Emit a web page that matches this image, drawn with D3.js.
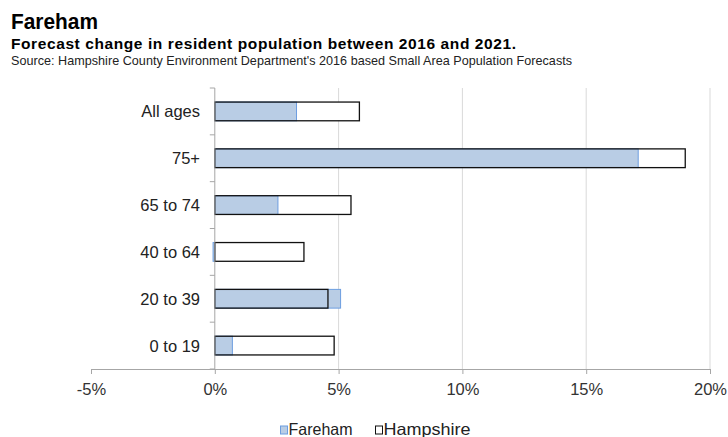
<!DOCTYPE html>
<html>
<head>
<meta charset="utf-8">
<script src="https://cdn.jsdelivr.net/npm/d3@7"></script>
<style>
  body { margin: 0; background: #fff; }
  svg { display: block; font-family: "Liberation Sans", Arial, sans-serif; }
</style>
</head>
<body>
<svg id="chart" width="728" height="437"></svg>
<script>
// Age bands, top to bottom
const categories = ["All ages", "75+", "65 to 74", "40 to 64", "20 to 39", "0 to 19"];
// Forecast change 2016-2021, percent
const fareham   = [3.3, 17.1, 2.55, -0.07, 5.08, 0.71];
const hampshire = [5.84, 19.0, 5.5, 3.6, 4.57, 4.82];
const xTicks = [-5, 0, 5, 10, 15, 20];

const svg = d3.select("#chart");
const W = 728, H = 437;
const m = { left: 91, right: 18, top: 88, bottom: 68 };

const x = d3.scaleLinear().domain([-5, 20]).range([m.left, W - m.right]);
const y = d3.scaleBand().domain(categories).range([m.top, H - m.bottom]).paddingInner(0.6).paddingOuter(0.3);
const yOuter = d3.scaleBand().domain(categories).range([m.top, H - m.bottom]);

// Titles
svg.append("text").attr("x", 11).attr("y", 29).attr("font-size", 21.5).attr("font-weight", "bold")
  .attr("textLength", 87).attr("lengthAdjust", "spacingAndGlyphs").text("Fareham");
svg.append("text").attr("x", 11).attr("y", 49).attr("font-size", 15.5).attr("font-weight", "bold")
  .attr("textLength", 505).attr("lengthAdjust", "spacing")
  .text("Forecast change in resident population between 2016 and 2021.");
svg.append("text").attr("x", 11).attr("y", 65).attr("font-size", 12.6).attr("fill", "#222")
  .attr("textLength", 561).attr("lengthAdjust", "spacing")
  .text("Source: Hampshire County Environment Department's 2016 based Small Area Population Forecasts");

// Vertical gridlines
svg.append("g").selectAll("line").data(xTicks.filter(d => d > 0)).join("line")
  .attr("x1", d => x(d)).attr("x2", d => x(d))
  .attr("y1", m.top).attr("y2", H - m.bottom)
  .attr("stroke", "#d9d9d9").attr("stroke-width", 1);

const rows = categories.map((c, i) => ({ c, f: fareham[i], h: hampshire[i] }));

// Hampshire background fill
svg.append("g").selectAll("rect").data(rows).join("rect")
  .attr("x", d => x(Math.min(0, d.h))).attr("width", d => Math.abs(x(d.h) - x(0)))
  .attr("y", d => y(d.c)).attr("height", y.bandwidth())
  .attr("fill", "#fff");

// Fareham bars
svg.append("g").selectAll("rect").data(rows).join("rect")
  .attr("x", d => x(Math.min(0, d.f))).attr("width", d => Math.abs(x(d.f) - x(0)))
  .attr("y", d => y(d.c)).attr("height", y.bandwidth())
  .attr("fill", "#b9cde5").attr("stroke", "#6d9ee0").attr("stroke-width", 1);

// Hampshire outline drawn over the top
svg.append("g").selectAll("rect").data(rows).join("rect")
  .attr("x", d => x(Math.min(0, d.h))).attr("width", d => Math.abs(x(d.h) - x(0)))
  .attr("y", d => y(d.c)).attr("height", y.bandwidth())
  .attr("fill", "none").attr("stroke", "#111").attr("stroke-width", 1.3);

// X axis
const xAxis = svg.append("g").attr("transform", `translate(0,${H - m.bottom})`)
  .call(d3.axisBottom(x).tickValues(xTicks).tickFormat(d => d + "%").tickSizeOuter(0).tickSize(5));
xAxis.select(".domain").attr("stroke", "#a6a6a6");
xAxis.selectAll(".tick line").attr("stroke", "#a6a6a6");
xAxis.selectAll(".tick text").attr("font-size", 16.5).attr("fill", "#333").attr("y", 0).attr("dy", 0)
  .attr("transform", "translate(0,26)")
  .attr("font-family", "Liberation Sans, Arial, sans-serif");

// Y axis at zero with ticks between bands
const yAxisG = svg.append("g");
yAxisG.append("line").attr("x1", x(0)).attr("x2", x(0)).attr("y1", m.top).attr("y2", H - m.bottom)
  .attr("stroke", "#a6a6a6");
const bounds = categories.map(c => yOuter(c)).concat([H - m.bottom]);
yAxisG.selectAll("line.t").data(bounds).join("line").attr("class", "t")
  .attr("x1", x(0) - 5).attr("x2", x(0)).attr("y1", d => d).attr("y2", d => d)
  .attr("stroke", "#a6a6a6");
yAxisG.selectAll("text").data(categories).join("text")
  .attr("x", 200).attr("y", d => yOuter(d) + yOuter.bandwidth() / 2 + 6)
  .attr("text-anchor", "end").attr("font-size", 16.5).attr("fill", "#222")
  .text(d => d);

// Legend
const legend = svg.append("g").attr("transform", "translate(0,435)");
const items = [
  { label: "Fareham", fill: "#b9cde5", stroke: "#6d9ee0", x: 280.5, w: 64 },
  { label: "Hampshire", fill: "#fff", stroke: "#111", x: 375.5, w: 87 }
];
items.forEach(it => {
  legend.append("rect").attr("x", it.x).attr("y", -9).attr("width", 7).attr("height", 8)
    .attr("fill", it.fill).attr("stroke", it.stroke);
  legend.append("text").attr("x", it.x + 8).attr("y", 0).attr("font-size", 16.5).attr("fill", "#222")
    .attr("textLength", it.w).attr("lengthAdjust", "spacingAndGlyphs")
    .text(it.label);
});
</script>
</body>
</html>
